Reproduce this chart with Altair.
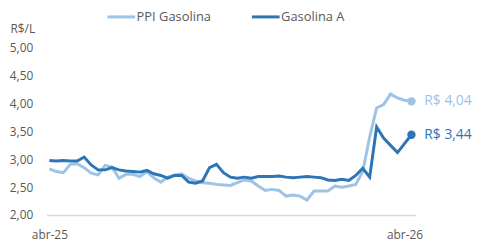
import altair as alt
import pandas as pd

# ---- data ----
weeks = list(range(53))
ppi_gasolina = [2.83, 2.78, 2.76, 2.91, 2.92, 2.85, 2.75, 2.72, 2.89, 2.86,
                2.66, 2.73, 2.73, 2.69, 2.78, 2.67, 2.59, 2.68, 2.72, 2.74,
                2.66, 2.61, 2.58, 2.57, 2.55, 2.54, 2.53, 2.58, 2.63, 2.61,
                2.52, 2.44, 2.46, 2.44, 2.34, 2.36, 2.34, 2.27, 2.43, 2.43,
                2.43, 2.52, 2.50, 2.52, 2.55, 2.78, 3.40, 3.92, 3.98, 4.17,
                4.10, 4.06, 4.04]
gasolina_a = [2.98, 2.97, 2.98, 2.97, 2.97, 3.04, 2.90, 2.81, 2.81, 2.85,
              2.81, 2.79, 2.78, 2.77, 2.80, 2.74, 2.71, 2.66, 2.71, 2.71,
              2.59, 2.57, 2.61, 2.85, 2.91, 2.76, 2.68, 2.66, 2.68, 2.66,
              2.69, 2.69, 2.69, 2.70, 2.68, 2.67, 2.68, 2.69, 2.68, 2.67,
              2.63, 2.62, 2.64, 2.62, 2.71, 2.84, 2.68, 3.58, 3.38, 3.25,
              3.12, 3.28, 3.44]
series_names = ["PPI Gasolina", "Gasolina A"]
series_colors = ["#9DC3E6", "#2E75B6"]
x_tick_values = [0, 51]
x_tick_labels = ["abr-25", "abr-26"]
y_tick_values = [2.0, 2.5, 3.0, 3.5, 4.0, 4.5, 5.0]

FONT = "Open Sans"
GRAY = "#595959"

rows = []
for name, vals in zip(series_names, [ppi_gasolina, gasolina_a]):
    for w, v in zip(weeks, vals):
        rows.append({"week": w, "valor": v, "serie": name})
df = pd.DataFrame(rows)

last = pd.DataFrame([
    {"week": weeks[-1], "valor": vals[-1], "serie": name,
     "rotulo": "R$ " + f"{vals[-1]:.2f}".replace(".", ",")}
    for name, vals in zip(series_names, [ppi_gasolina, gasolina_a])
])

label_expr = " : ".join(
    f"datum.value == {v} ? '{t}'" for v, t in zip(x_tick_values, x_tick_labels)
) + " : ''"

x_enc = alt.X("week:Q",
              scale=alt.Scale(domain=[-0.4, 52.6], nice=False, zero=False),
              axis=alt.Axis(values=x_tick_values, labelExpr=label_expr,
                            title=None, grid=False, ticks=False,
                            domainColor="#D9D9D9", domainWidth=1.5,
                            labelFont=FONT, labelFontSize=12, labelColor=GRAY,
                            labelPadding=15, labelFlush=False,
                            labelOverlap=False))
y_enc = alt.Y("valor:Q",
              scale=alt.Scale(domain=[2, 5], nice=False, zero=False),
              axis=alt.Axis(values=y_tick_values, tickCount=7,
                            labelExpr="replace(format(datum.value, '.2f'), '.', ',')",
                            labelOverlap=False,
                            title="R$/L", titleAngle=0, titleAlign="left",
                            titleBaseline="middle", titleX=-37, titleY=-19,
                            titleFont=FONT, titleFontSize=12,
                            titleFontWeight="normal", titleColor=GRAY,
                            grid=False, ticks=False, domain=False,
                            labelFont=FONT, labelFontSize=12, labelColor=GRAY,
                            labelPadding=14))

color_enc = alt.Color("serie:N",
                      scale=alt.Scale(domain=series_names, range=series_colors),
                      legend=alt.Legend(title=None, orient="none",
                                        direction="horizontal",
                                        legendX=60, legendY=-47,
                                        symbolType="stroke", symbolSize=784,
                                        symbolStrokeWidth=3,
                                        labelFont=FONT, labelFontSize=13,
                                        labelColor=GRAY, labelOffset=0,
                                        columnPadding=34))

base_lines = alt.Chart(df).encode(x=x_enc, y=y_enc, color=color_enc)
lines = base_lines.mark_line(strokeWidth=3).encode(
    order=alt.Order("week:Q"),
    detail="serie:N",
)

base_last = alt.Chart(last).encode(x=x_enc, y=y_enc, color=color_enc)
points = base_last.mark_circle(size=72, opacity=1)
texts = base_last.mark_text(align="left", baseline="middle", dx=13,
                            font=FONT, fontSize=14).encode(text="rotulo:N")

chart = alt.layer(lines, points, texts).properties(
    width=373, height=169,
    autosize=alt.AutoSizeParams(type="none"),
    padding={"left": 39, "top": 39, "right": 60, "bottom": 25},
).configure_view(stroke=None).configure_axis(labelOverlap=False)

chart.save("out.html", embed_options={"renderer": "svg", "actions": False})
